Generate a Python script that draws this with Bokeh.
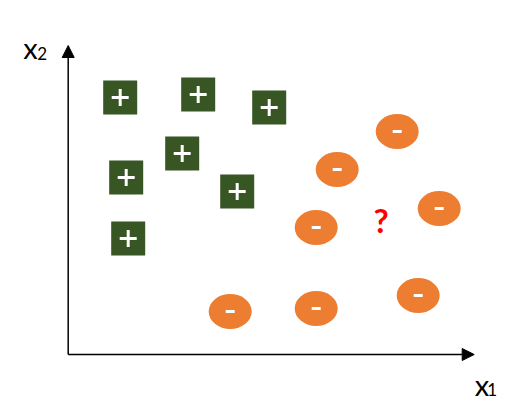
from bokeh.plotting import figure
from bokeh.models import Arrow, NormalHead, Label, Range1d
from bokeh.embed import file_html
from bokeh.resources import INLINE

# feature values (1 unit = 10 px from the axis corner)
plus_x1 = [5.2, 13.0, 20.1, 11.4, 5.8, 16.9, 6.0]
plus_x2 = [25.7, 26.0, 24.7, 20.1, 17.7, 16.3, 11.6]

minus_x1 = [32.9, 26.9, 37.1, 24.8, 24.8, 35.0, 16.2]
minus_x2 = [22.3, 18.5, 14.6, 12.7, 4.6, 5.9, 4.3]

query_x1 = [31.3]
query_x2 = [13.5]

GREEN = "#375623"
ORANGE = "#ED7D31"

p = figure(width=511, height=406, output_backend="svg", toolbar_location=None,
           x_axis_type=None, y_axis_type=None, min_border=0,
           x_range=Range1d(-6.77, 44.33), y_range=Range1d(-5.2, 35.4))
p.grid.visible = False
p.outline_line_color = None
p.background_fill_color = "white"
p.border_fill_color = "white"

# axes drawn as arrows
p.add_layout(Arrow(x_start=0, y_start=0, x_end=40.6, y_end=0, line_width=1.5,
                   end=NormalHead(size=12, fill_color="black", line_color="black")))
p.add_layout(Arrow(x_start=0, y_start=0, x_end=0, y_end=30.9, line_width=1.5,
                   end=NormalHead(size=12, fill_color="black", line_color="black")))

# positive class: green squares with a plus
p.scatter(plus_x1, plus_x2, marker="square", size=34, fill_color=GREEN, line_color=None)
p.scatter(plus_x1, plus_x2, marker="cross", size=17, line_color="white", line_width=3)

# negative class: orange ellipses with a minus
p.ellipse(minus_x1, minus_x2, width=43, height=35, width_units="screen",
          height_units="screen", fill_color=ORANGE, line_color=None)
p.scatter(minus_x1, minus_x2, marker="dash", size=9, line_color="white", line_width=3)

# unknown point
p.text(query_x1, query_x2, text=["?"], text_color="red", text_font_size="33px",
       text_font_style="bold", text_align="center", text_baseline="middle",
       text_font={"value": "Lato"})

# axis labels with subscripts
p.add_layout(Label(x=-4.5, y=30.73, text="x", text_font="Lato", text_font_size="29px",
                   text_color="black", text_baseline="alphabetic"))
p.add_layout(Label(x=-3.1, y=30.07, text="2", text_font="Lato", text_font_size="17px",
                   text_color="black", text_baseline="alphabetic"))
p.add_layout(Label(x=40.65, y=-3.03, text="x", text_font="Lato", text_font_size="29px",
                   text_color="black", text_baseline="alphabetic"))
p.add_layout(Label(x=41.9, y=-3.5, text="1", text_font="Lato", text_font_size="17px",
                   text_color="black", text_baseline="alphabetic"))

open("out.html", "w").write(file_html(p, INLINE))
